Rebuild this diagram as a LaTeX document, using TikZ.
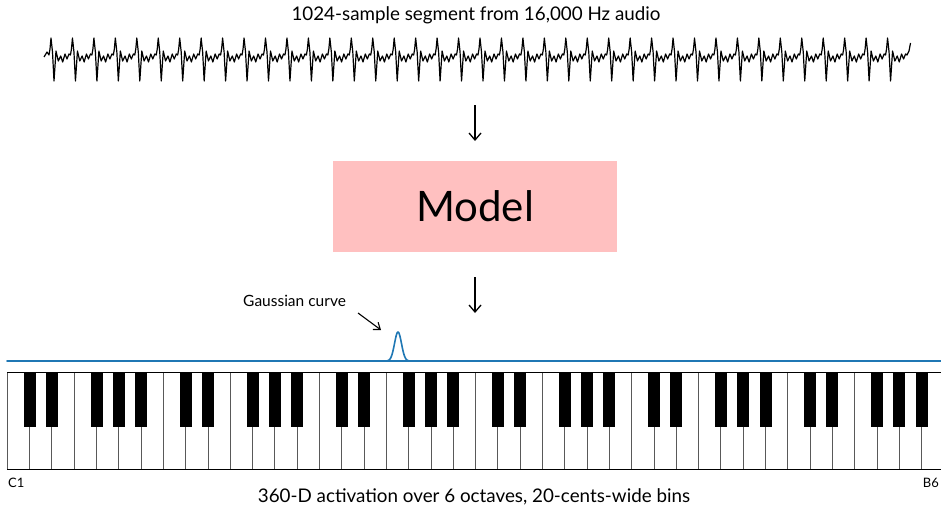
\documentclass[tikz,border=0pt]{standalone}
\usepackage{fontspec}
\setmainfont{Lato}
\usetikzlibrary{arrows.meta}
\definecolor{modelpink}{RGB}{255,192,192}
\definecolor{curveblue}{RGB}{31,119,180}
\begin{document}
\begin{tikzpicture}[x=1pt,y=-1pt,
  caption/.style={font=\fontsize{18.8}{22}\selectfont, inner sep=0pt},
  small/.style={font=\fontsize{15.5}{18}\selectfont, inner sep=0pt},
  tiny/.style={font=\fontsize{13}{15}\selectfont, inner sep=0pt},
  flow/.style={line width=1.3pt, -{Straight Barb[length=7pt,width=12pt]}},
  pointer/.style={line width=1.1pt, -{Straight Barb[length=6pt,width=9pt]}},
  wave/.style={line width=1.2pt, line join=round},
  whitekey/.style={draw=black!65, line width=0.9pt, fill=white},
  blackkey/.style={fill=black},
  curve/.style={draw=curveblue, line width=1.6pt, line join=round, line cap=round},
  modelbox/.style={fill=modelpink, minimum width=284pt, minimum height=91pt,
    font=\fontsize{42}{48}\selectfont}]
\useasboundingbox (0,0) rectangle (941,511);

% title and waveform
\node[caption] (title) at (476,15) {1024-sample segment from 16,000 Hz audio};
\draw[wave] (44,57) -- (47,52) -- (49,55)
  \foreach \i in {0,...,39} {
    -- ++(1,-6) -- ++(1,-11) -- ++(1.5,14) -- ++(1.5,29) -- ++(2,-30)
    -- ++(2.3,10) -- ++(2.4,-5) -- ++(2,6) -- ++(2.3,-8) -- ++(2,5)
    -- ++(2,-5) -- ++(1.45,1)
  } -- ++(2,-4) -- ++(1.5,-8);

% model block
\coordinate (inTop) at (475,105);
\coordinate (inBot) at (475,141);
\draw[flow] (inTop) -- (inBot);
\node[modelbox] (model) at (475,206.5) {Model};
\coordinate (outTop) at (475,277);
\coordinate (outBot) at (475,313);
\draw[flow] (outTop) -- (outBot);

% keyboard, 6 octaves
\begin{scope}
  \clip (0,0) rectangle (941,511);
  \foreach \k in {0,...,41}
    \draw[whitekey] ({7.3+22.3*\k},372) rectangle ++(22.3,97);
  \foreach \o in {0,...,5}
    \foreach \b in {1,2,4,5,6}
      \fill[blackkey] ({7.3+22.3*(7*\o+\b)-6},372) rectangle ++(12,55);
  \draw[line width=1pt] (7.3,372) -- (941,372);
  \draw[line width=1pt] (7.3,469) -- (941,469);
\end{scope}

% activation curve: flat baseline with one Gaussian bump
\draw[curve] (7,361) -- (941,361);
\draw[curve] plot[domain=386:410, samples=61, smooth]
  (\x, {361-29*exp(-((\x-398)^2)/24)});
\node[small, anchor=west] (gauss) at (243,301) {Gaussian curve};
\coordinate (gaussTail) at (358,313);
\coordinate (gaussTip) at (381,330);
\draw[pointer] (gaussTail) -- (gaussTip);

% labels
\node[tiny, anchor=west] (low) at (8,483) {C1};
\node[tiny, anchor=east] (high) at (939,483) {B6};
\node[caption] (bins) at (474,497) {360-D activation over 6 octaves, 20-cents-wide bins};
\end{tikzpicture}
\end{document}
